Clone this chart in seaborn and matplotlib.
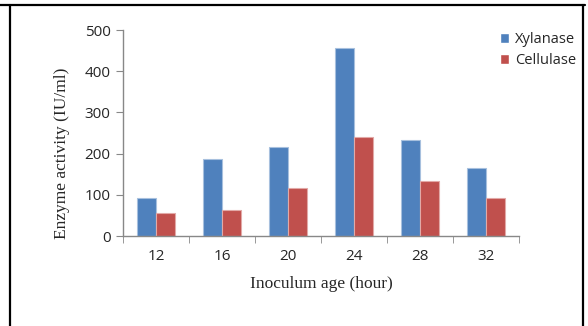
import pandas as pd
import matplotlib
matplotlib.use("Agg")
import matplotlib.pyplot as plt
from matplotlib.lines import Line2D
import seaborn as sns

# ============================================
# DATA
# ============================================

ages = ["12", "16", "20", "24", "28", "32"]
xylanase = [93, 188, 215, 457, 233, 164]
cellulase = [56, 62, 116, 240, 133, 93]

df = pd.DataFrame({
    "Inoculum age": ages * 2,
    "Activity": xylanase + cellulase,
    "Enzyme": ["Xylanase"] * len(ages) + ["Cellulase"] * len(ages),
})

# ============================================
# PLOT
# ============================================

sns.set_style("white")
plt.rcParams["font.family"] = ["Open Sans", "DejaVu Sans"]

W, H = 588, 326
fig = plt.figure(figsize=(W / 100, H / 100), dpi=100)
ax = fig.add_axes([123 / W, 1 - 236 / H, (519 - 123) / W, (236 - 30) / H])

palette = {"Xylanase": "#4F81BD", "Cellulase": "#C0504D"}
sns.barplot(
    data=df, x="Inoculum age", y="Activity", hue="Enzyme",
    palette=palette, width=0.58, saturation=1, ax=ax, legend=True,
)
for bar_group, edge in zip(ax.containers, ["#A7C0DE", "#E2A9A7"]):
    for bar in bar_group:
        bar.set_edgecolor(edge)
        bar.set_linewidth(0.8)

ax.set_xlim(-0.5, len(ages) - 0.5)
ax.set_ylim(0, 500)
ax.set_yticks([0, 100, 200, 300, 400, 500])
ax.tick_params(axis="y", labelsize=11, length=5, color="#888888", pad=4,
               direction="out", left=True)
ax.set_xticks(range(len(ages)))
ax.set_xticks([i - 0.5 for i in range(len(ages) + 1)], minor=True)
ax.tick_params(axis="x", which="major", length=0, labelsize=11, pad=9)
ax.tick_params(axis="x", which="minor", length=5, color="#888888",
               direction="out", bottom=True)

for side in ["top", "right"]:
    ax.spines[side].set_visible(False)
for side in ["left", "bottom"]:
    ax.spines[side].set_color("#888888")
    ax.spines[side].set_linewidth(1)

ax.set_ylabel("Enzyme activity (IU/ml)", family="Liberation Serif",
              fontsize=12.5)
ax.yaxis.set_label_coords(-0.134, 0.40)
ax.set_xlabel("Inoculum age (hour)", family="Liberation Serif",
              fontsize=12.5, labelpad=9)

leg = ax.legend(loc="upper left", bbox_to_anchor=(494 / W, 1 - 26 / H),
                bbox_transform=fig.transFigure, frameon=False, fontsize=10.5,
                handlelength=0.65, handleheight=0.65, handletextpad=0.4,
                labelspacing=0.45, borderaxespad=0)

# outer frame from the page
fig.add_artist(Line2D([0, 585 / W], [1 - 5 / H, 1 - 5 / H], color="black",
                      lw=1.6, transform=fig.transFigure))
fig.add_artist(Line2D([10 / W, 10 / W], [1 - 5 / H, 0], color="black",
                      lw=1.6, transform=fig.transFigure))
fig.add_artist(Line2D([583 / W, 583 / W], [1 - 5 / H, 0], color="black",
                      lw=1.6, transform=fig.transFigure))

fig.savefig("out.png", dpi=100)
